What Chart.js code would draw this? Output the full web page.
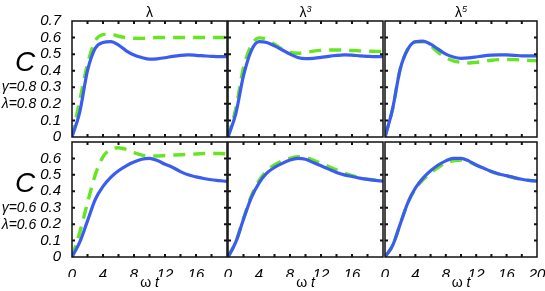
<!DOCTYPE html>
<html>
<head>
<meta charset="utf-8">
<script src="https://cdn.jsdelivr.net/npm/chart.js@4/dist/chart.umd.min.js"></script>
<style>
  body { margin: 0; background: #fff; }
  #wrap { position: relative; width: 545px; height: 291px; overflow: hidden; font-family: "Liberation Sans", Arial, sans-serif; }
  .box { position: absolute; }
  .txt { position: absolute; transform: translate(-50%, -50%); white-space: nowrap; color: #000; }
  .it { font-style: italic; }
</style>
</head>
<body>
<div id="wrap"></div>
<script>
// time axis (omega t)
var t = [0,1,2,3,4,5,6,7,8,9,10,11,12,13,14,15,16,17,18,19,20];

// gamma = 0.8, lambda = 0.8 (top row)
var blueTopL  = [0,0.15,0.40,0.535,0.57,0.575,0.555,0.52,0.495,0.48,0.47,0.472,0.478,0.487,0.493,0.495,0.493,0.49,0.487,0.485,0.485];
var greenTopL = [0,0.22,0.44,0.58,0.618,0.62,0.608,0.60,0.596,0.595,0.597,0.60,0.60,0.60,0.60,0.60,0.60,0.60,0.60,0.60,0.60];
var blueTopL3  = [0,0.14,0.37,0.52,0.575,0.57,0.55,0.525,0.50,0.48,0.473,0.475,0.48,0.487,0.492,0.495,0.494,0.49,0.487,0.485,0.485];
var greenTopL3 = [0,0.17,0.42,0.55,0.598,0.59,0.56,0.53,0.51,0.505,0.51,0.518,0.523,0.525,0.525,0.524,0.522,0.52,0.518,0.517,0.516];
var blueTopL5  = [0,0.17,0.41,0.53,0.575,0.578,0.56,0.53,0.50,0.483,0.475,0.477,0.483,0.49,0.494,0.496,0.495,0.493,0.49,0.49,0.49];
var greenTopL5 = [0,0.17,0.41,0.53,0.575,0.575,0.55,0.51,0.478,0.46,0.45,0.447,0.45,0.457,0.463,0.467,0.468,0.467,0.465,0.462,0.46];

// gamma = 0.6, lambda = 0.6 (bottom row)
var blueBotL  = [0,0.09,0.22,0.35,0.43,0.485,0.525,0.555,0.578,0.595,0.60,0.587,0.565,0.545,0.52,0.50,0.488,0.478,0.47,0.465,0.46];
var greenBotL = [0,0.15,0.33,0.50,0.61,0.655,0.665,0.655,0.635,0.62,0.615,0.615,0.618,0.62,0.622,0.625,0.627,0.63,0.63,0.63,0.628];
var blueBotL3  = [0,0.09,0.23,0.36,0.45,0.51,0.545,0.57,0.59,0.60,0.595,0.575,0.555,0.535,0.515,0.50,0.49,0.48,0.472,0.466,0.462];
var greenBotL3 = [0,0.09,0.235,0.37,0.465,0.525,0.56,0.585,0.60,0.61,0.605,0.59,0.57,0.55,0.53,0.51,0.495,0.483,0.474,0.468,0.463];
var blueBotL5  = [0,0.07,0.20,0.33,0.42,0.48,0.525,0.56,0.585,0.60,0.60,0.585,0.56,0.54,0.52,0.505,0.495,0.483,0.473,0.466,0.462];
var greenBotL5 = [0,0.07,0.20,0.33,0.415,0.47,0.51,0.545,0.575,0.585,0.59,0.58,0.56,0.54,0.52,0.505,0.493,0.482,0.472,0.466,0.462];

var colTitles = ["λ", "λ<sup style='font-size:9px'><i>3</i></sup>", "λ<sup style='font-size:9px'><i>5</i></sup>"];
var rowLabels = [["γ=0.8", "λ=0.8"], ["γ=0.6", "λ=0.6"]];
var xTicks = [0, 4, 8, 12, 16, 20];
var yTicks = [0, 0.1, 0.2, 0.3, 0.4, 0.5, 0.6, 0.7];

var series = [
  [[blueTopL, greenTopL], [blueTopL3, greenTopL3], [blueTopL5, greenTopL5]],
  [[blueBotL, greenBotL], [blueBotL3, greenBotL3], [blueBotL5, greenBotL5]]
];

var cols = [{l: 72, w: 155}, {l: 228, w: 155}, {l: 385, w: 152}];
var rows = [{t: 21, h: 116}, {t: 142, h: 115}];
var PAD = 12, YW = 44, XH = 20;
var tickFont = {family: "Liberation Sans", size: 15, style: "italic"};

function pts(ys) {
  return t.map(function (x, i) { return {x: x, y: ys[i]}; });
}

function noOverflow(sc) {
  sc.paddingTop = 0; sc.paddingBottom = 0;
  sc.paddingLeft = 0; sc.paddingRight = 0;
}

// frame with small inward ticks on all four sides
var framePlugin = {
  id: "frame",
  afterDraw: function (chart) {
    var c = chart.ctx, a = chart.chartArea;
    var xs = chart.scales.x, ys = chart.scales.y;
    c.save();
    c.strokeStyle = "#111";
    c.lineWidth = 1.5;
    c.strokeRect(a.left, a.top, a.right - a.left, a.bottom - a.top);
    c.lineWidth = 2;
    c.beginPath();
    for (var v = 2; v < 20; v += 2) {
      var px = xs.getPixelForValue(v);
      c.moveTo(px, a.top); c.lineTo(px, a.top + 3);
      c.moveTo(px, a.bottom); c.lineTo(px, a.bottom - 3);
    }
    for (var k = 1; k < 7; k++) {
      var py = ys.getPixelForValue(k / 10);
      c.moveTo(a.left, py); c.lineTo(a.left + 3, py);
      c.moveTo(a.right, py); c.lineTo(a.right - 3, py);
    }
    c.stroke();
    c.restore();
  }
};

var wrap = document.getElementById("wrap");

function addText(str, x, y, size, italic) {
  var d = document.createElement("div");
  d.className = "txt" + (italic ? " it" : "");
  d.style.left = x + "px";
  d.style.top = y + "px";
  d.style.fontSize = size + "px";
  d.innerHTML = str;
  wrap.appendChild(d);
}

for (var r = 0; r < 2; r++) {
  for (var ci = 0; ci < 3; ci++) {
    (function (r, ci) {
      var col = cols[ci], row = rows[r];
      var yW = ci === 0 ? YW : 0;
      var xH = r === 1 ? XH : 0;
      var box = document.createElement("div");
      box.className = "box";
      box.style.left = (col.l - PAD - yW) + "px";
      box.style.top = (row.t - PAD) + "px";
      box.style.width = (col.w + 2 * PAD + yW) + "px";
      box.style.height = (row.h + 2 * PAD + xH) + "px";
      var cv = document.createElement("canvas");
      box.appendChild(cv);
      wrap.appendChild(box);

      var s = series[r][ci];
      new Chart(cv, {
        type: "line",
        data: {
          datasets: [
            {data: pts(s[0]), borderColor: "#3a5cf0", borderWidth: 3.2},
            {data: pts(s[1]), borderColor: "#66e620", borderWidth: 3.4, borderDash: [12, 8]}
          ]
        },
        options: {
          responsive: true,
          maintainAspectRatio: false,
          animation: false,
          events: [],
          layout: {padding: PAD},
          elements: {point: {radius: 0}, line: {cubicInterpolationMode: "monotone"}},
          plugins: {legend: {display: false}, tooltip: {enabled: false}},
          scales: {
            x: {
              type: "linear", min: 0, max: 20,
              display: r === 1,
              grid: {display: false}, border: {display: false},
              afterFit: function (sc) { sc.height = xH; noOverflow(sc); },
              afterBuildTicks: function (sc) { sc.ticks = xTicks.map(function (v) { return {value: v}; }); },
              ticks: {
                font: tickFont, color: "#000", padding: 1, maxRotation: 0, autoSkip: false,
                callback: function (v) { return (v === 20 && ci < 2) ? null : String(v); }
              }
            },
            y: {
              type: "linear", min: 0, max: 0.7,
              display: ci === 0,
              grid: {display: false}, border: {display: false},
              afterFit: function (sc) { sc.width = yW; noOverflow(sc); },
              afterBuildTicks: function (sc) { sc.ticks = yTicks.map(function (v) { return {value: v}; }); },
              ticks: {
                font: tickFont, color: "#000", padding: 3, autoSkip: false,
                callback: function (v) {
                  if (r === 1 && v > 0.65) return null;
                  return v === 0 ? "0" : v.toFixed(1);
                }
              }
            }
          }
        },
        plugins: [framePlugin]
      });
    })(r, ci);
  }
}

// column titles and axis captions
for (var j = 0; j < 3; j++) {
  var cx = cols[j].l + cols[j].w / 2;
  addText(colTitles[j], cx, 12, 14, false);
  addText("ω <i>t</i>", cx, 282, 14, false);
}
// row labels
for (var k = 0; k < 2; k++) {
  var base = rows[k].t;
  addText("C", 25, base + 41, 28, true);
  addText(rowLabels[k][0], 19, base + 65, 14, true);
  addText(rowLabels[k][1], 19, base + 82, 14, true);
}
</script>
</body>
</html>
